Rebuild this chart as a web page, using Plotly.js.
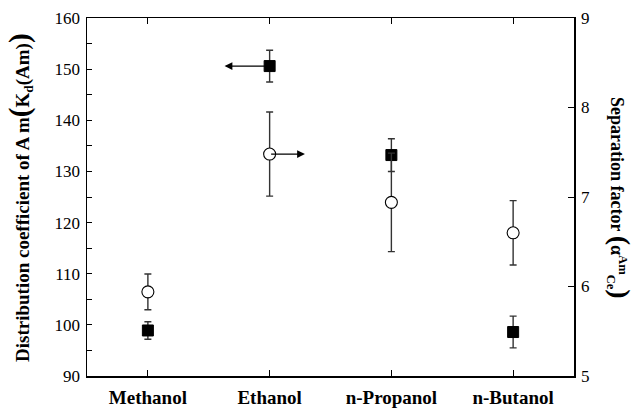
<!DOCTYPE html>
<html>
<head>
<meta charset="utf-8">
<script src="https://cdn.plot.ly/plotly-3.0.1.min.js"></script>
<style>html,body{margin:0;padding:0;background:#fff;}#chart{width:639px;height:411px;}</style>
</head>
<body>
<div id="chart"></div>
<script>
// Data
const categories = ["Methanol", "Ethanol", "n-Propanol", "n-Butanol"];
const kdValues = [98.9, 150.6, 133.2, 98.6];      // left axis, filled squares
const kdErrors = [1.7, 3.1, 3.2, 3.1];
const sfValues = [5.94, 7.48, 6.94, 6.60];        // right axis, open circles
const sfErrors = [0.20, 0.47, 0.55, 0.36];

const xs = categories.map((c, i) => i + 1);
const FONT = "Liberation Serif";

const traceKd = {
  x: xs, y: kdValues, type: "scatter", mode: "markers", yaxis: "y",
  marker: {symbol: "square", size: 11, color: "#000", line: {color: "#000", width: 1}},
  error_y: {type: "data", array: kdErrors, visible: true, color: "#333", thickness: 1.4, width: 3.5},
  showlegend: false, cliponaxis: false
};
const traceSf = {
  x: xs, y: sfValues, type: "scatter", mode: "markers", yaxis: "y2",
  marker: {symbol: "circle", size: 12, color: "#fff", line: {color: "#000", width: 1.1}},
  error_y: {type: "data", array: sfErrors, visible: true, color: "#333", thickness: 1.4, width: 3.5},
  showlegend: false, cliponaxis: false
};

const ML = 87, MR = 65, MT = 18, MB = 35;
const plotW = 639 - ML - MR, plotH = 411 - MT - MB;
const px2x = p => (p - ML) / plotW;
const py2y = p => (411 - MB - p) / plotH;

const layout = {
  width: 639, height: 411,
  margin: {l: ML, r: MR, t: MT, b: MB},
  paper_bgcolor: "#fff", plot_bgcolor: "#fff",
  font: {family: FONT, color: "#000", size: 17},
  xaxis: {
    range: [0.5, 4.5], tickvals: xs, ticktext: categories.map(c => "<b>" + c + "</b>"),
    showgrid: false, zeroline: false,
    showline: true, linecolor: "#000", linewidth: 1.5, mirror: "ticks",
    ticks: "inside", ticklen: 6, tickwidth: 1, tickcolor: "#000",
    tickfont: {family: FONT, size: 19},
    ticklabelstandoff: 4
  },
  yaxis: {
    range: [90, 160], dtick: 10,
    showgrid: false, zeroline: false,
    showline: true, linecolor: "#000", linewidth: 1.5,
    ticks: "inside", ticklen: 5, tickwidth: 1, tickcolor: "#000",
    minor: {dtick: 5, ticks: "inside", ticklen: 5, tickcolor: "#000", tickwidth: 1, showgrid: false},
    tickfont: {family: FONT, size: 17},
    ticklabelstandoff: 2
  },
  yaxis2: {
    range: [5, 9], dtick: 1, overlaying: "y", side: "right",
    showgrid: false, zeroline: false,
    showline: true, linecolor: "#000", linewidth: 1.5,
    ticks: "inside", ticklen: 6, tickwidth: 1, tickcolor: "#000",
    tickfont: {family: FONT, size: 17},
    ticklabelstandoff: 2
  },
  annotations: [
    {
      x: 1.63, y: kdValues[1], xref: "x", yref: "y",
      ax: xs[1], ay: kdValues[1], axref: "x", ayref: "y",
      showarrow: true, arrowhead: 2, arrowsize: 1.2, arrowwidth: 1.3, arrowcolor: "#000", text: "",
      standoff: 0, startstandoff: 0
    },
    {
      x: 2.29, y: sfValues[1], xref: "x", yref: "y2",
      ax: xs[1], ay: sfValues[1], axref: "x", ayref: "y2",
      showarrow: true, arrowhead: 2, arrowsize: 1.2, arrowwidth: 1.3, arrowcolor: "#000", text: "",
      standoff: 0, startstandoff: 0
    },
    {
      x: px2x(19), y: py2y(198), xref: "paper", yref: "paper", showarrow: false,
      textangle: -90, xanchor: "center", yanchor: "middle",
      text: "<b>Distribution coefficient of A m<span style='font-size:29px'>(</span>K<sub>d</sub>(Am)<span style='font-size:29px'>)</span></b>",
      font: {family: FONT, size: 19}
    },
    {
      x: px2x(620), y: py2y(198), xref: "paper", yref: "paper", showarrow: false,
      textangle: 90, xanchor: "center", yanchor: "middle",
      text: "<b>Separation factor <span style='font-size:28px'>(</span>α<sup>Am</sup><sub>Ce</sub><span style='font-size:28px'>)</span></b>",
      font: {family: FONT, size: 18}
    }
  ]
};

Plotly.newPlot("chart", [traceKd, traceSf], layout, {displayModeBar: false, staticPlot: true});
</script>
</body>
</html>
